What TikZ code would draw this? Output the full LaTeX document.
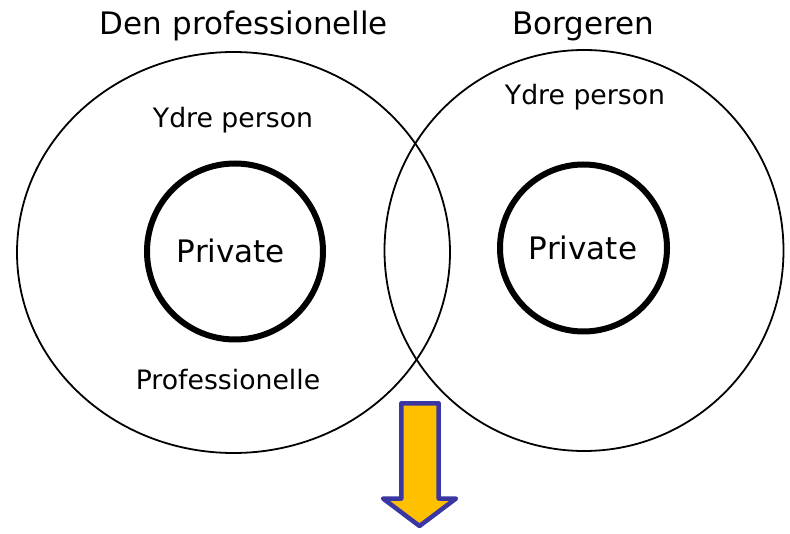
\documentclass[tikz,border=0pt]{standalone}
\usepackage{fontspec}
\setmainfont{DejaVu Sans}
\usetikzlibrary{shapes.geometric}
\definecolor{arrowfill}{HTML}{FFC000}
\definecolor{arrowline}{HTML}{3A36A2}
\tikzset{
  outerring/.style={draw, ellipse, line width=1.8pt, inner sep=0pt},
  innerring/.style={draw, circle, line width=6pt, inner sep=0pt},
  bigtext/.style={anchor=base, font=\fontsize{31}{36}\selectfont},
  smalltext/.style={anchor=base, font=\fontsize{26.7}{32}\selectfont}
}

\begin{document}
\begin{tikzpicture}[x=1pt, y=-1pt]
            \useasboundingbox (0,0) rectangle (790,534);
            % the two persons
            \node [outerring, minimum width=433pt, minimum height=401pt] (prof) at (233.5,252.5) {};
            \node [outerring, minimum width=399pt, minimum height=401pt] (borger) at (584,250.5) {};
            \node [innerring, minimum size=176pt] (profpriv) at (235,251.5) {};
            \node [innerring, minimum size=167pt] (borgerpriv) at (583.5,248) {};
            % texts
            \node [bigtext] (profname) at (244,35) {Den professionelle};
            \node [bigtext] (borgername) at (583.5,35) {Borgeren};
            \node [smalltext] (profydre) at (233,128) {Ydre person};
            \node [smalltext] (borgerydre) at (585,105) {Ydre person};
            \node [bigtext] (profprivtext) at (231,263) {Private};
            \node [bigtext] (borgerprivtext) at (583,260) {Private};
            \node [smalltext] (profrole) at (228,390) {Professionelle};
            % arrow
            \coordinate (tip) at (419.5,526);
            \draw [arrowline, fill=arrowfill, line width=4.5pt, line join=round] (401.3,403.3) -- (438.7,403.3) -- (438.7,498.5) -- (456,498.5) -- (tip) -- (383,498.5) -- (401.3,498.5) -- cycle;
\end{tikzpicture}
\end{document}
